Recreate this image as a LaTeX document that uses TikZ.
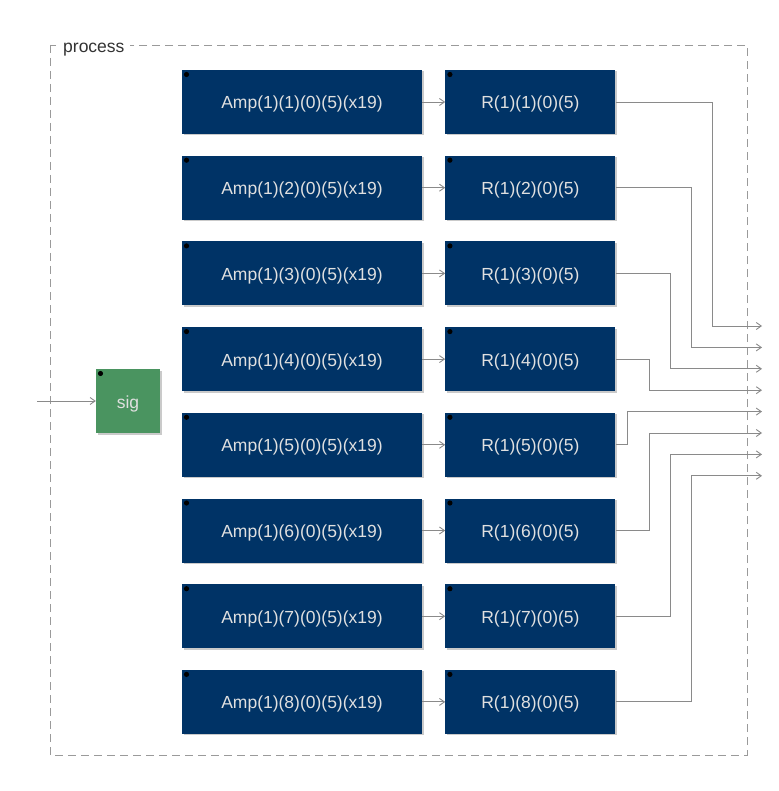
\documentclass[tikz,border=0pt]{standalone}
\usepackage{fontspec}
\setmainfont{Liberation Sans}
\usetikzlibrary{arrows.meta, positioning, shadows}

\definecolor{ampblue}{HTML}{003366}
\definecolor{siggreen}{HTML}{4A9460}
\definecolor{wiregray}{HTML}{8A8A8A}
\definecolor{framegray}{HTML}{9A9A9A}

\begin{document}
\begin{tikzpicture}[x=1pt, y=-1pt,
node distance = 21.3pt and 23pt,
box/.style = {draw=none, fill=ampblue, text=white!88!black,
              minimum height=64pt, inner sep=0pt,
              text height=14pt, text depth=0pt,
              font=\fontsize{17.5pt}{21pt}\selectfont,
              drop shadow={shadow xshift=1.5pt, shadow yshift=-1.5pt,
                           opacity=0.35, fill=black!60},
              path picture={\fill[black] ([xshift=4.5pt,yshift=-4.5pt]path picture bounding box.north west) circle (2.6pt);}},
ampbox/.style = {box, minimum width=240pt},
rbox/.style = {box, minimum width=170pt},
wire/.style = {draw=wiregray, line width=0.9pt,
               -{Straight Barb[length=5pt,width=7pt]}},
                    ]
%---
\useasboundingbox (0,0) rectangle (778,791);

% frame
\draw[framegray, line width=0.9pt, dash pattern=on 8pt off 5pt]
        (50,45) rectangle (747,755);
\node (proc_label) [anchor=base west, fill=white, inner xsep=6pt, inner ysep=2pt,
        text=black!80, font=\fontsize{17.5pt}{21pt}\selectfont] at (57,52.5) {process};

% signal
\node (sig) [box, fill=siggreen, minimum width=64pt, minimum height=64pt] at (128,401) {sig};
\coordinate (in) at (37,401);

% amplifiers
\node (amp1) [ampbox] at (302,102) {Amp(1)(1)(0)(5)(x19)};
\node (amp2) [ampbox, below=of amp1] {Amp(1)(2)(0)(5)(x19)};
\node (amp3) [ampbox, below=of amp2] {Amp(1)(3)(0)(5)(x19)};
\node (amp4) [ampbox, below=of amp3] {Amp(1)(4)(0)(5)(x19)};
\node (amp5) [ampbox, below=of amp4] {Amp(1)(5)(0)(5)(x19)};
\node (amp6) [ampbox, below=of amp5] {Amp(1)(6)(0)(5)(x19)};
\node (amp7) [ampbox, below=of amp6] {Amp(1)(7)(0)(5)(x19)};
\node (amp8) [ampbox, below=of amp7] {Amp(1)(8)(0)(5)(x19)};

% R blocks
\node (r1) [rbox, right=of amp1] {R(1)(1)(0)(5)};
\node (r2) [rbox, right=of amp2] {R(1)(2)(0)(5)};
\node (r3) [rbox, right=of amp3] {R(1)(3)(0)(5)};
\node (r4) [rbox, right=of amp4] {R(1)(4)(0)(5)};
\node (r5) [rbox, right=of amp5] {R(1)(5)(0)(5)};
\node (r6) [rbox, right=of amp6] {R(1)(6)(0)(5)};
\node (r7) [rbox, right=of amp7] {R(1)(7)(0)(5)};
\node (r8) [rbox, right=of amp8] {R(1)(8)(0)(5)};

% outputs
\coordinate (o1) at (762,326);
\coordinate (o2) at (762,347.4);
\coordinate (o3) at (762,368.8);
\coordinate (o4) at (762,390.2);
\coordinate (o5) at (762,411.6);
\coordinate (o6) at (762,433);
\coordinate (o7) at (762,454.4);
\coordinate (o8) at (762,475.8);

\draw[wire] (in) -- (sig);

\path[wire]
        (amp1) edge (r1)
        (amp2) edge (r2)
        (amp3) edge (r3)
        (amp4) edge (r4)
        (amp5) edge (r5)
        (amp6) edge (r6)
        (amp7) edge (r7)
        (amp8) edge (r8);

\draw[wire] (r1.east) -| ([xshift=-50pt]o1) -- (o1);
\draw[wire] (r2.east) -| ([xshift=-71pt]o2) -- (o2);
\draw[wire] (r3.east) -| ([xshift=-92pt]o3) -- (o3);
\draw[wire] (r4.east) -| ([xshift=-113pt]o4) -- (o4);
\draw[wire] (r5.east) -| ([xshift=-135pt]o5) -- (o5);
\draw[wire] (r6.east) -| ([xshift=-113pt]o6) -- (o6);
\draw[wire] (r7.east) -| ([xshift=-92pt]o7) -- (o7);
\draw[wire] (r8.east) -| ([xshift=-71pt]o8) -- (o8);

\end{tikzpicture}
\end{document}
